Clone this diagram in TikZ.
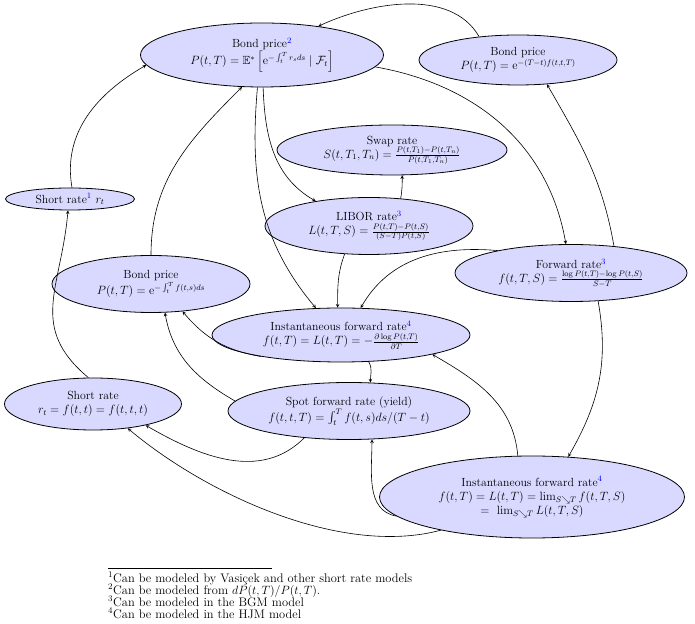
\documentclass[tikz,border=0pt]{standalone}
\usepackage{amsmath,amssymb}
\usetikzlibrary{shapes.geometric}
\newcommand{\fn}[1]{\textsuperscript{\color{blue}#1}}
\begin{document}
\begin{tikzpicture}[x=1pt,y=1pt,
    rate/.style={ellipse, draw=black, thick, fill=blue!15, align=center, inner sep=0pt, font=\fontsize{11.8}{14}\selectfont},
    link/.style={->, >=stealth, semithick},
    note/.style={anchor=base west, inner sep=0pt, font=\fontsize{12.4}{12}\selectfont}]
    \useasboundingbox (0,0) rectangle (695,623);
    \node[rate, minimum width=243, minimum height=64] (bpTop) at (262,568) {Bond price\fn{2}\\ $P(t,T)=\mathbb{E}^*\left[\mathrm{e}^{-\int_t^T r_s ds}\mid\mathcal{F}_t\right]$};
    \node[rate, minimum width=198, minimum height=50] (bpR) at (518,563) {Bond price\\ $P(t,T)=\mathrm{e}^{-(T-t)f(t,t,T)}$};
    \node[rate, minimum width=129, minimum height=22] (sr1) at (70,424) {Short rate\fn{1} $r_t$};
    \node[rate, minimum width=230, minimum height=50] (swap) at (392,473) {Swap rate\\ $S(t,T_1,T_n)=\frac{P(t,T_1)-P(t,T_n)}{P(t,T_1,T_n)}$};
    \node[rate, minimum width=208, minimum height=57] (libor) at (369,397) {LIBOR rate\fn{3}\\ $L(t,T,S)=\frac{P(t,T)-P(t,S)}{(S-T)P(t,S)}$};
    \node[rate, minimum width=232, minimum height=57] (fwd) at (571,350) {Forward rate\fn{3}\\ $f(t,T,S)=\frac{\log P(t,T)-\log P(t,S)}{S-T}$};
    \node[rate, minimum width=198, minimum height=57] (bpL) at (151,339) {Bond price\\ $P(t,T)=\mathrm{e}^{-\int_t^T f(t,s)ds}$};
    \node[rate, minimum width=258, minimum height=54] (instM) at (341,288) {Instantaneous forward rate\fn{4}\\ $f(t,T)=L(t,T)=-\frac{\partial\log P(t,T)}{\partial T}$};
    \node[rate, minimum width=177, minimum height=52] (sr) at (93,219) {Short rate\\ $r_t=f(t,t)=f(t,t,t)$};
    \node[rate, minimum width=242, minimum height=57] (spot) at (349,212) {Spot forward rate (yield)\\ $f(t,t,T)=\int_t^T f(t,s)ds/(T-t)$};
    \node[rate, minimum width=305, minimum height=82] (instB) at (532,126) {Instantaneous forward rate\fn{4}\\ $f(t,T)=L(t,T)=\lim_{S\searrow T}f(t,T,S)$\\ $=\ \lim_{S\searrow T}L(t,T,S)$};
    \draw[link] (bpR.149) to[out=120,in=25,looseness=0.9] (bpTop.27);
    \draw[link] (bpTop.-6) to[out=-10,in=100] (fwd.100);
    \draw[link] (fwd.32) to[out=100,in=-60] (bpR.-40);
    \draw[link] (sr1.80) to[out=100,in=210] (bpTop.185);
    \draw[link] (bpL.north) to[out=90,in=225] (bpTop.238);
    \draw[link] (sr.100) to[out=140,in=-95,looseness=1.2] (sr1.-100);
    \draw[link] (bpTop.272) to[out=-88,in=150] (libor.155);
    \draw[link] (bpTop.262) to[out=-95,in=130] (instM.133);
    \draw[link] (libor.41) to[out=80,in=-90] (swap.-68);
    \draw[link] (libor.229) to[out=-110,in=90] (instM.97);
    \draw[link] (fwd.163) to[out=175,in=60] (instM.54);
    \draw[link] (instM.-44) to[out=-60,in=90] (spot.53);
    \draw[link] (instB.109) to[out=95,in=-30] (instM.-12);
    \draw[link] (fwd.-46) to[out=-80,in=60] (instB.48);
    \draw[link] (instB.188) to[out=170,in=-90] (spot.-51);
    \draw[link] (spot.211) to[out=225,in=-30] (sr.-22);
    \draw[link] (instB.200) to[out=195,in=-40,looseness=0.8] (sr.-35);
    \draw[link] (instM.195) to[out=170,in=-50] (bpL.-41);
    \draw[link] (spot.175) to[out=150,in=-80] (bpL.-64);
    \draw[semithick] (108,55) -- (272,55);
    \node[note] (n1) at (108,41) {\textsuperscript{1}Can be modeled by Vasiçek and other short rate models};
    \node[note] (n2) at (108,29) {\textsuperscript{2}Can be modeled from $dP(t,T)/P(t,T)$.};
    \node[note] (n3) at (108,17) {\textsuperscript{3}Can be modeled in the BGM model};
    \node[note] (n4) at (108,5) {\textsuperscript{4}Can be modeled in the HJM model};
\end{tikzpicture}
\end{document}
